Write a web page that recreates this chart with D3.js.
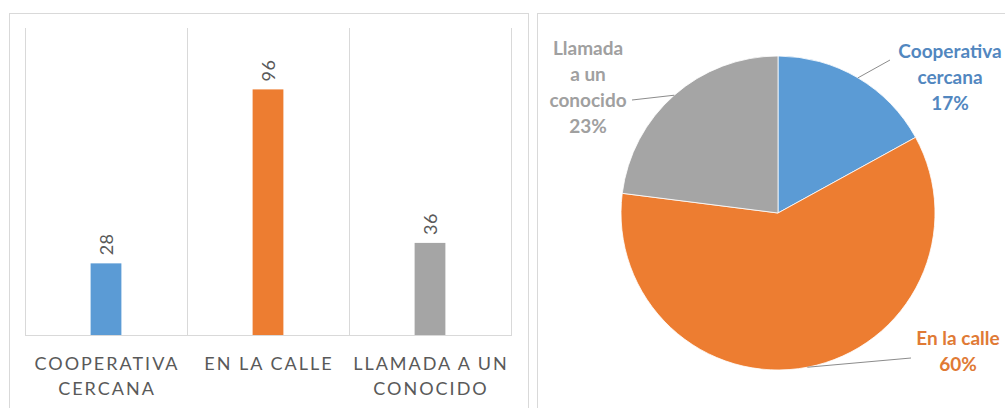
<!DOCTYPE html>
<html>
<head>
<meta charset="utf-8">
<script src="https://cdn.jsdelivr.net/npm/d3@7/dist/d3.min.js"></script>
<style>
  html, body { margin: 0; padding: 0; background: #fff; }
  svg { display: block; }
</style>
</head>
<body>
<svg id="chart" width="1005" height="408"></svg>
<script>
// Data
const categories = ["Cooperativa cercana", "En la calle", "Llamada a un conocido"];
const values = [28, 96, 36];
const pieShares = [17, 60, 23];
const tickLines = [["COOPERATIVA", "CERCANA"], ["EN LA CALLE"], ["LLAMADA A UN", "CONOCIDO"]];
const pieLabelLines = [["Cooperativa", "cercana"], ["En la calle"], ["Llamada", "a un", "conocido"]];
const colors = ["#5b9bd5", "#ed7d31", "#a5a5a5"];
const labelColors = ["#5287bf", "#e07a35", "#a0a0a0"];

const svg = d3.select("#chart");
const gridColor = "#d9d9d9";

// Panel frames
svg.append("rect").attr("x", 9.5).attr("y", 13.5).attr("width", 519).attr("height", 420)
  .attr("fill", "#fff").attr("stroke", gridColor);
svg.append("rect").attr("x", 537.5).attr("y", 13.5).attr("width", 500).attr("height", 420)
  .attr("fill", "#fff").attr("stroke", gridColor);

// ---- Column chart ----
const plot = { left: 25, right: 511, top: 28, bottom: 335 };
const x = d3.scaleBand().domain(categories).range([plot.left, plot.right]).paddingInner(0.81).paddingOuter(0.405);
const y = d3.scaleLinear().domain([0, 120]).range([plot.bottom, plot.top]);

// Vertical separators between categories
const step = x.step();
const bounds = d3.range(categories.length + 1).map(i => plot.left + i * step);
svg.append("g").selectAll("line").data(bounds).join("line")
  .attr("x1", d => d + 0.5).attr("x2", d => d + 0.5)
  .attr("y1", plot.top).attr("y2", plot.bottom)
  .attr("stroke", gridColor);

// Bars
svg.append("g").selectAll("rect").data(values).join("rect")
  .attr("x", (d, i) => x(categories[i]))
  .attr("width", x.bandwidth())
  .attr("y", d => y(d))
  .attr("height", d => y(0) - y(d))
  .attr("fill", (d, i) => colors[i]);

// Baseline
svg.append("line").attr("x1", plot.left).attr("x2", plot.right + 1)
  .attr("y1", plot.bottom + 0.5).attr("y2", plot.bottom + 0.5).attr("stroke", gridColor);

// Rotated value labels
svg.append("g").selectAll("text").data(values).join("text")
  .attr("transform", (d, i) => `translate(${x(categories[i]) + x.bandwidth() / 2 + 6.5},${y(d) - 8}) rotate(-90)`)
  .attr("text-anchor", "start")
  .attr("font-family", "Lato, sans-serif")
  .attr("font-size", 18)
  .attr("letter-spacing", 0.5)
  .attr("fill", "#595959")
  .text(d => d);

// Category labels
const tickG = svg.append("g").selectAll("text").data(tickLines).join("text")
  .attr("x", (d, i) => x(categories[i]) + x.bandwidth() / 2)
  .attr("y", 370)
  .attr("text-anchor", "middle")
  .attr("font-family", "Lato, sans-serif")
  .attr("font-size", 18)
  .attr("letter-spacing", 2)
  .attr("fill", "#595959");
tickG.selectAll("tspan").data((d, i) => d.map(t => ({ t, cx: x(categories[i]) + x.bandwidth() / 2 })))
  .join("tspan")
  .attr("x", d => d.cx + 1)
  .attr("dy", (d, j) => j === 0 ? 0 : 25)
  .text(d => d.t);

// ---- Pie chart ----
const cx = 778, cy = 213, r = 157;
const pie = d3.pie().sort(null).value(d => d);
const arcs = pie(pieShares);
const arc = d3.arc().innerRadius(0).outerRadius(r);
const pg = svg.append("g").attr("transform", `translate(${cx},${cy})`);
pg.selectAll("path").data(arcs).join("path")
  .attr("d", arc)
  .attr("fill", (d, i) => colors[i])
  .attr("stroke", "#fff").attr("stroke-width", 0.8);

// Label placement (layout only)
const labelLayout = [
  { x: 950, y: 58, lineEnd: [890, 60] },
  { x: 958, y: 345, lineEnd: [911, 358] },
  { x: 588, y: 55, lineEnd: [632, 100] }
];
const lh = 26;

// Leader lines from slice edge at mid angle
svg.append("g").selectAll("line").data(arcs).join("line")
  .attr("x1", d => cx + r * Math.sin((d.startAngle + d.endAngle) / 2))
  .attr("y1", d => cy - r * Math.cos((d.startAngle + d.endAngle) / 2))
  .attr("x2", (d, i) => labelLayout[i].lineEnd[0])
  .attr("y2", (d, i) => labelLayout[i].lineEnd[1])
  .attr("stroke", "#8c8c8c").attr("stroke-width", 1);

const pl = svg.append("g").selectAll("text").data(arcs).join("text")
  .attr("text-anchor", "middle")
  .attr("font-family", "Lato, sans-serif")
  .attr("font-weight", "bold")
  .attr("font-size", 19)
  .attr("fill", (d, i) => labelColors[i]);
pl.selectAll("tspan").data((d, i) => {
  const lines = pieLabelLines[i].concat([d.value + "%"]);
  return lines.map((t, j) => ({ t, x: labelLayout[i].x, y: labelLayout[i].y + j * lh }));
}).join("tspan")
  .attr("x", d => d.x).attr("y", d => d.y)
  .text(d => d.t);
</script>
</body>
</html>
